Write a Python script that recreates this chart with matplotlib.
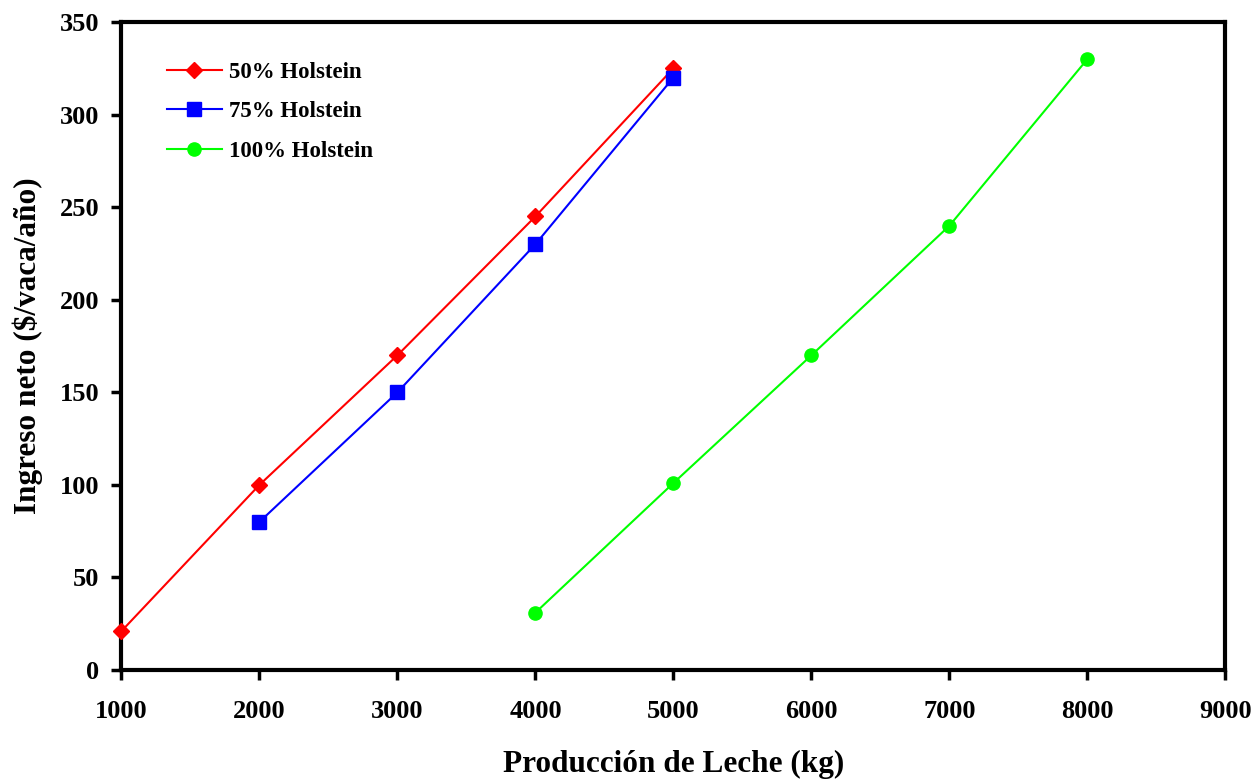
import matplotlib
matplotlib.use("Agg")
import matplotlib.pyplot as plt

x50 = [1000, 2000, 3000, 4000, 5000]
y50 = [21, 100, 170, 245, 325]
x75 = [2000, 3000, 4000, 5000]
y75 = [80, 150, 230, 320]
x100 = [4000, 5000, 6000, 7000, 8000]
y100 = [31, 101, 170, 240, 330]
labels = ["50% Holstein", "75% Holstein", "100% Holstein"]

plt.rcParams['font.family'] = ['Liberation Serif', 'DejaVu Serif']
plt.rcParams['font.weight'] = 'bold'

fig = plt.figure(figsize=(12.56, 7.79), dpi=100)
ax = fig.add_axes([0.0967, 0.1399, 0.8790, 0.8319])

ax.plot(x50, y50, color='#ff0000', marker='D', markersize=8, lw=1.5, label=labels[0], clip_on=False, zorder=3)
ax.plot(x75, y75, color='#0000ff', marker='s', markersize=9.5, lw=1.5, label=labels[1], clip_on=False, zorder=3)
ax.plot(x100, y100, color='#00ff00', marker='o', markersize=9.5, lw=1.5, label=labels[2], clip_on=False, zorder=3)

ax.set_xlim(1000, 9000)
ax.set_ylim(0, 350)
ax.set_xticks(range(1000, 9001, 1000))
ax.set_yticks(range(0, 351, 50))
for s in ax.spines.values():
    s.set_linewidth(3)
ax.tick_params(direction='out', length=7, width=2.5, labelsize=19)
ax.tick_params(axis='x', pad=14.5)
ax.tick_params(axis='y', pad=9)
for t in ax.get_xticklabels() + ax.get_yticklabels():
    t.set_fontweight('bold')

ax.set_xlabel('Producción de Leche (kg)', fontsize=22.5, fontweight='bold', labelpad=19.5)
ax.set_ylabel('Ingreso neto ($/vaca/año)', fontsize=22.5, fontweight='bold', labelpad=12)

leg = ax.legend(loc='upper left', bbox_to_anchor=(0.041, 0.939), frameon=False,
                borderaxespad=0, borderpad=0,
                prop={'family': 'Liberation Serif', 'weight': 'bold', 'size': 16.5},
                handlelength=2.4, labelspacing=0.82, handletextpad=0.3)

fig.savefig('out.png', dpi=100)
